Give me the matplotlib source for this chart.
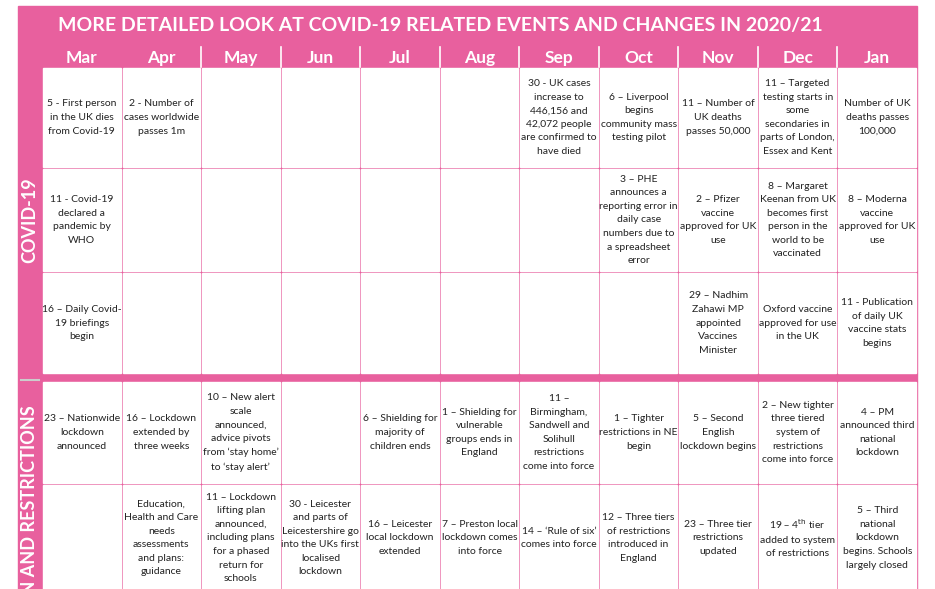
import matplotlib
matplotlib.use("Agg")
import matplotlib.pyplot as plt
from matplotlib.patches import Rectangle

title = "MORE DETAILED LOOK AT COVID-19 RELATED EVENTS AND CHANGES IN 2020/21"
months = ["Mar", "Apr", "May", "Jun", "Jul", "Aug", "Sep", "Oct", "Nov", "Dec", "Jan"]
sections = ["COVID-19", "LOCKDOWN AND RESTRICTIONS"]

row1 = ["5 - First person\nin the UK dies\nfrom Covid-19", "2 - Number of\ncases worldwide\npasses 1m", "", "", "", "",
        "30 - UK cases\nincrease to\n446,156 and\n42,072 people\nare confirmed to\nhave died",
        "6 – Liverpool\nbegins\ncommunity mass\ntesting pilot", "11 – Number of\nUK deaths\npasses 50,000",
        "11 – Targeted\ntesting starts in\nsome\nsecondaries in\nparts of London,\nEssex and Kent",
        "Number of UK\ndeaths passes\n100,000"]
row2 = ["11 - Covid-19\ndeclared a\npandemic by\nWHO", "", "", "", "", "", "",
        "3 – PHE\nannounces a\nreporting error in\ndaily case\nnumbers due to\na spreadsheet\nerror",
        "2 – Pfizer\nvaccine\napproved for UK\nuse",
        "8 – Margaret\nKeenan from UK\nbecomes first\nperson in the\nworld to be\nvaccinated",
        "8 – Moderna\nvaccine\napproved for UK\nuse"]
row3 = ["16 – Daily Covid-\n19 briefings\nbegin", "", "", "", "", "", "", "",
        "29 – Nadhim\nZahawi MP\nappointed\nVaccines\nMinister",
        "Oxford vaccine\napproved for use\nin the UK",
        "11 - Publication\nof daily UK\nvaccine stats\nbegins"]
row4 = ["23 – Nationwide\nlockdown\nannounced", "16 – Lockdown\nextended by\nthree weeks",
        "10 – New alert\nscale\nannounced,\nadvice pivots\nfrom ‘stay home’\nto ‘stay alert’", "",
        "6 – Shielding for\nmajority of\nchildren ends",
        "1 – Shielding for\nvulnerable\ngroups ends in\nEngland",
        "11 –\nBirmingham,\nSandwell and\nSolihull\nrestrictions\ncome into force",
        "1 – Tighter\nrestrictions in NE\nbegin", "5 – Second\nEnglish\nlockdown begins",
        "2 – New tighter\nthree tiered\nsystem of\nrestrictions\ncome into force",
        "4 – PM\nannounced third\nnational\nlockdown"]
row5 = ["", "Education,\nHealth and Care\nneeds\nassessments\nand plans:\nguidance",
        "11 – Lockdown\nlifting plan\nannounced,\nincluding plans\nfor a phased\nreturn for\nschools",
        "30 - Leicester\nand parts of\nLeicestershire go\ninto the UKs first\nlocalised\nlockdown",
        "16 – Leicester\nlocal lockdown\nextended", "7 – Preston local\nlockdown comes\ninto force",
        "14 – ‘Rule of six’\ncomes into force",
        "12 – Three tiers\nof restrictions\nintroduced in\nEngland", "23 – Three tier\nrestrictions\nupdated",
        "19 – 4$^{\\mathrm{th}}$ tier\nadded to system\nof restrictions",
        "5 – Third\nnational\nlockdown\nbegins. Schools\nlargely closed"]
rows = [row1, row2, row3, row4, row5]

PINK = "#E8609E"
W, H = 935, 589
fig = plt.figure(figsize=(W / 100, H / 100), dpi=100)
ax = fig.add_axes([0, 0, 1, 1])
ax.set_xlim(0, W)
ax.set_ylim(H, 0)
ax.axis("off")
plt.rcParams['font.family'] = ['Lato', 'DejaVu Sans']

x0, x1 = 42, 917
colw = (x1 - x0) / len(months)
row_edges = [(67, 168), (168, 272), (272, 374), (381, 484), (484, 592)]

ax.add_patch(Rectangle((18, 6), x1 - 18, H, color=PINK, zorder=0))
ax.text(440, 26, title, color="white", fontsize=14, fontweight="bold", ha="center", va="center")
for i, m in enumerate(months):
    ax.text(x0 + colw * (i + 0.5), 58, m, color="white", fontsize=12.5, fontweight="bold", ha="center", va="center")
for i in range(2, len(months)):
    ax.plot([x0 + colw * i] * 2, [47, 67], color="white", lw=1.2)

for r, (yt, yb) in enumerate(row_edges):
    for c in range(len(months)):
        ax.add_patch(Rectangle((x0 + colw * c + 1, yt + 1), colw - 2, yb - yt - 2, color="white", zorder=1))
        t = rows[r][c]
        if t:
            ax.text(x0 + colw * (c + 0.5), (yt + yb) / 2, t, fontsize=7.5, ha="center", va="center",
                    linespacing=1.65, color="#222222", zorder=2)

ax.text(30, 220, sections[0], color="white", fontsize=13, fontweight="bold", rotation=90, ha="center", va="center")
ax.text(30, 405, sections[1], color="white", fontsize=13, fontweight="bold", rotation=90, ha="center", va="top", clip_on=True)
ax.plot([21, 39], [380, 380], color="#cccccc", lw=1.5)

fig.savefig("out.png", dpi=100)
